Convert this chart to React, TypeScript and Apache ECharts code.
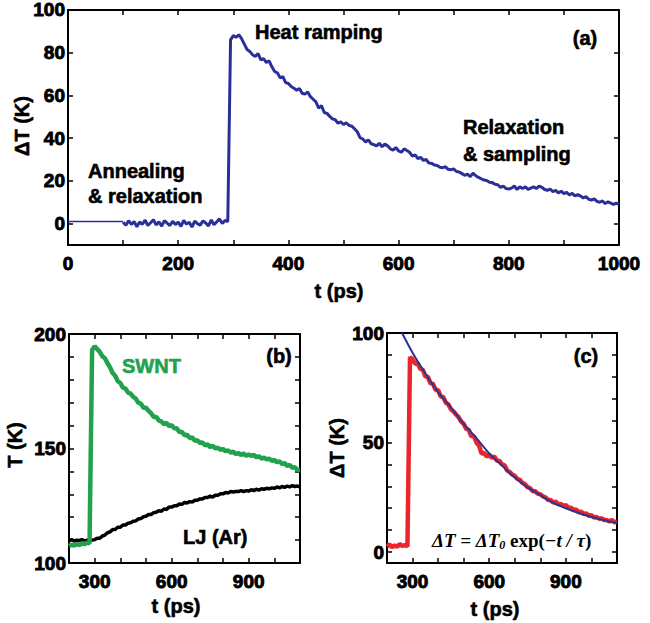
import React, { useEffect, useRef } from "react";
import * as echarts from "echarts";

// ---------- Panel (a): ΔT vs t ----------
const aFlatTimes = [0, 100];
const aFlatValues = [1.0, 1.0];
const aStart = 100;
const aStep = 5;
const aValues = [
  0.6, -0.8, 1.4, -0.4, 1.0, -1.5, 0.8, -0.3, 1.6, -0.9,
  0.4, 1.8, -0.6, 0.9, -1.2, 1.4, 0.2, -0.9, 1.1, -0.4,
  0.7, -1.3, 1.5, -0.2, 0.6, -1.6, 1.2, 0.0, -0.7, 1.3,
  0.3, -1.1, 1.7, -0.5, 0.9, 2.2, 0.1, 1.5, 1.0, 86.0,
  88.0, 87.2, 88.4, 86.6, 84.0, 81.5, 80.6, 79.0, 78.2, 79.6,
  76.6, 77.2, 75.4, 76.2, 73.4, 71.2, 70.6, 68.2, 68.8, 66.0,
  65.6, 64.2, 63.4, 62.4, 63.2, 61.0, 60.6, 61.6, 59.4, 58.2,
  57.0, 54.0, 55.2, 52.0, 51.6, 50.2, 49.0, 48.6, 47.0, 47.6,
  46.4, 47.2, 46.0, 45.6, 44.4, 43.0, 40.2, 39.6, 38.2, 39.2,
  37.4, 37.0, 36.4, 37.6, 36.0, 37.2, 36.4, 35.0, 34.4, 35.6,
  34.0, 33.4, 35.0, 34.2, 33.4, 31.6, 32.2, 30.4, 31.0, 29.6,
  30.0, 28.4, 28.2, 27.4, 27.2, 26.4, 26.2, 26.6, 25.4, 25.2,
  25.6, 24.4, 24.2, 23.4, 22.6, 23.2, 22.0, 23.6, 22.4, 21.6,
  21.0, 20.4, 20.2, 19.4, 19.2, 18.4, 18.2, 17.0, 17.6, 16.4,
  16.2, 16.6, 17.6, 16.0, 17.2, 16.4, 17.2, 16.0, 16.6, 17.2,
  16.4, 17.6, 17.0, 16.0, 15.6, 16.2, 15.0, 15.6, 14.4, 15.2,
  14.0, 14.6, 13.4, 14.2, 13.0, 13.6, 13.0, 12.0, 12.6, 11.4,
  11.0, 11.6, 10.4, 10.0, 10.6, 9.4, 10.2, 9.6, 9.0, 9.6,
  9.0,
];
const aYTicks = [0, 20, 40, 60, 80, 100];

// ---------- Panel (b): T vs t ----------
const bStart = 200;
const bStep = 10;
const bSwnt = [
  107.4, 108.0, 107.6, 108.2, 107.8, 108.6, 108.2, 108.8, 108.6, 193.0,
  194.6, 193.4, 192.2, 190.2, 189.4, 187.2, 185.4, 183.0, 181.8, 179.4,
  178.6, 176.6, 176.2, 174.4, 174.0, 172.6, 171.8, 170.0, 169.6, 167.8,
  167.8, 166.4, 165.4, 163.8, 163.8, 162.2, 161.8, 160.6, 161.2, 159.8,
  160.2, 158.8, 158.8, 157.2, 157.2, 155.8, 156.0, 154.6, 154.8, 153.4,
  153.6, 152.4, 152.6, 151.4, 151.8, 150.6, 151.2, 150.0, 150.4, 149.4,
  149.8, 148.8, 149.2, 148.2, 148.6, 147.6, 148.0, 147.2, 147.8, 146.8,
  147.4, 146.8, 147.2, 146.2, 146.6, 145.6, 146.0, 145.2, 145.6, 144.6,
  145.0, 144.0, 144.4, 143.2, 143.6, 142.4, 142.8, 141.6, 141.8, 140.6,
  140.8,
];
const bLj = [
  109.8, 110.2, 109.6, 110.0, 109.8, 110.2, 109.6, 110.0, 109.8, 110.0,
  110.2, 110.8, 110.8, 111.8, 112.2, 113.2, 113.6, 114.6, 114.6, 115.6,
  115.6, 116.6, 116.6, 117.4, 117.6, 118.2, 118.4, 119.2, 119.4, 120.2,
  120.4, 121.2, 121.2, 122.0, 122.2, 122.8, 122.6, 123.6, 123.4, 124.4,
  124.4, 125.0, 125.0, 125.8, 125.6, 126.4, 126.2, 126.8, 126.6, 127.4,
  127.4, 128.0, 128.0, 128.6, 128.6, 129.2, 128.8, 129.6, 129.6, 130.2,
  130.2, 130.8, 130.6, 131.2, 131.0, 131.2, 131.2, 131.6, 131.2, 131.6,
  131.4, 132.0, 131.6, 132.2, 131.8, 132.4, 132.2, 132.6, 132.4, 132.8,
  132.6, 133.2, 132.8, 133.4, 133.0, 133.6, 133.2, 133.8, 133.4, 133.6,
  133.2,
];

// ---------- Panel (c): ΔT with exponential fit ----------
const cStart = 200;
const cStep = 10;
const cData = [
  2.6, 3.4, 2.2, 3.0, 2.4, 3.6, 2.8, 3.2, 2.6, 89.0,
  88.0, 86.0, 86.2, 83.6, 83.2, 80.2, 80.0, 77.0, 76.8, 74.0,
  74.0, 71.0, 70.8, 68.2, 67.4, 65.2, 64.2, 62.8, 61.6, 59.6,
  58.6, 56.2, 55.8, 52.8, 53.0, 50.0, 48.6, 45.0, 45.2, 43.6,
  44.4, 43.0, 43.6, 41.8, 41.6, 40.0, 39.6, 37.2, 36.6, 35.4,
  34.8, 33.4, 33.0, 31.6, 31.0, 29.6, 29.2, 27.8, 27.8, 26.6,
  26.4, 25.4, 25.0, 23.8, 23.8, 22.6, 23.0, 21.8, 22.0, 21.0,
  21.4, 20.2, 20.2, 19.2, 19.4, 18.2, 18.4, 17.4, 17.6, 16.6,
  16.8, 15.8, 16.0, 15.2, 15.4, 14.6, 14.6, 14.0, 14.6, 13.6,
  13.8,
];
const cFitTimes = [259, 300, 350, 400, 450, 500, 550, 600, 650, 700, 750, 800, 850, 900, 950, 1000, 1050, 1100];
const cFitValues = [100, 91, 81.5, 73, 66, 58.5, 52, 45, 39.5, 34, 29.5, 26, 22.5, 20, 17.8, 16, 14.5, 13.2];
const cYTicks = [0, 10, 20, 30, 40, 50, 60, 70, 80, 90, 100];
const cYLabels = [0, 50, 100];

const FONT = "'Liberation Sans', Arial, Helvetica, sans-serif";
const SERIF = "'Liberation Serif', 'Times New Roman', serif";

function seq(start: number, step: number, vals: number[]) {
  return vals.map((v, i) => [start + i * step, v]);
}

const labelStyle = {
  color: "#000",
  fontFamily: FONT,
  fontWeight: "bold" as const,
  fontSize: 19,
  textBorderColor: "#000",
  textBorderWidth: 0.9,
};

function xAx(grid: number, min: number, max: number, interval: number, pos: "bottom" | "top", fmt?: (v: number) => string) {
  return {
    type: "value",
    gridIndex: grid,
    position: pos,
    min,
    max,
    interval,
    splitLine: { show: false },
    axisLine: { show: true, onZero: false, lineStyle: { color: "#000", width: 2 } },
    axisTick: { show: true, inside: true, length: 5, lineStyle: { color: "#000", width: 1.5 } },
    axisLabel: pos === "bottom" && fmt ? { ...labelStyle, margin: 9, formatter: fmt, showMinLabel: true, showMaxLabel: true } : { show: false },
  };
}

function yAx(grid: number, min: number, max: number, pos: "left" | "right", opts: any) {
  return {
    type: "value",
    gridIndex: grid,
    position: pos,
    min,
    max,
    splitLine: { show: false },
    axisLine: { show: true, onZero: false, lineStyle: { color: "#000", width: 2 } },
    ...opts.base,
    axisTick: { show: true, inside: true, length: 5, lineStyle: { color: "#000", width: 1.5 }, ...(opts.tick || {}) },
    axisLabel: pos === "left" ? { ...labelStyle, margin: 3, ...(opts.label || {}) } : { show: false, ...(opts.label || {}) },
  };
}

function txt(x: number, y: number, text: string, extra: any = {}, rotation = 0) {
  const fill = extra.fill || "#000";
  return {
    type: "text",
    x,
    y,
    rotation,
    silent: true,
    style: {
      text,
      fill,
      font: extra.font || `bold 20px ${FONT}`,
      align: extra.align || "center",
      verticalAlign: "middle",
      stroke: extra.rich ? undefined : fill,
      lineWidth: extra.rich ? 0 : 0.6,
      rich: extra.rich,
    },
  };
}

export default function App() {
  const ref = useRef<HTMLDivElement>(null);
  useEffect(() => {
    if (!ref.current) return;
    const chart = echarts.init(ref.current, undefined, { renderer: "svg" });
    const aFlat = aFlatTimes.map((t, i) => [t, aFlatValues[i]]);
    const aSeries = seq(aStart, aStep, aValues);
    const option: any = {
      animation: false,
      backgroundColor: "#fff",
      grid: [
        { left: 68, top: 6, width: 551, height: 239 },
        { left: 69, top: 334, width: 231, height: 229 },
        { left: 387, top: 333, width: 230, height: 230 },
      ],
      xAxis: [
        xAx(0, 0, 1000, 100, "bottom", (v: number) => (v % 200 === 0 ? String(v) : "")),
        xAx(0, 0, 1000, 100, "top"),
        xAx(1, 200, 1100, 100, "bottom", (v: number) => (v % 300 === 0 ? String(v) : "")),
        xAx(1, 200, 1100, 100, "top"),
        xAx(2, 200, 1100, 100, "bottom", (v: number) => (v % 300 === 0 ? String(v) : "")),
        xAx(2, 200, 1100, 100, "top"),
      ],
      yAxis: [
        yAx(0, -10, 100, "left", { tick: { customValues: aYTicks }, label: { customValues: aYTicks } }),
        yAx(0, -10, 100, "right", { tick: { customValues: aYTicks }, label: { customValues: aYTicks } }),
        yAx(1, 100, 200, "left", { base: { interval: 10 }, label: { formatter: (v: number) => (v % 50 === 0 ? String(v) : ""), showMinLabel: true, showMaxLabel: true } }),
        yAx(1, 100, 200, "right", { base: { interval: 10 } }),
        yAx(2, -5, 100, "left", { tick: { customValues: cYTicks }, label: { customValues: cYLabels } }),
        yAx(2, -5, 100, "right", { tick: { customValues: cYTicks }, label: { customValues: cYLabels } }),
      ],
      series: [
        {
          type: "line", xAxisIndex: 0, yAxisIndex: 0, data: aFlat, showSymbol: false, symbol: "none",
          lineStyle: { color: "#2b2f98", width: 1.6 }, clip: true,
        },
        {
          type: "line", xAxisIndex: 0, yAxisIndex: 0, data: aSeries, showSymbol: false, symbol: "none",
          lineStyle: { color: "#2b2f98", width: 3 }, clip: true,
        },
        {
          type: "line", xAxisIndex: 2, yAxisIndex: 2, data: seq(bStart, bStep, bLj), showSymbol: false, symbol: "none",
          lineStyle: { color: "#000", width: 3.5 }, clip: true,
        },
        {
          type: "line", xAxisIndex: 2, yAxisIndex: 2, data: seq(bStart, bStep, bSwnt), showSymbol: false, symbol: "none",
          lineStyle: { color: "#22a24c", width: 4.5 }, clip: true,
        },
        {
          type: "line", xAxisIndex: 4, yAxisIndex: 4, data: seq(cStart, cStep, cData), showSymbol: false, symbol: "none",
          lineStyle: { color: "#e8262c", width: 4.5 }, clip: true,
        },
        {
          type: "line", xAxisIndex: 4, yAxisIndex: 4, data: cFitTimes.map((t, i) => [t, cFitValues[i]]), showSymbol: false, symbol: "none",
          smooth: 0.3, lineStyle: { color: "#2a3592", width: 2 }, clip: true,
        },
      ],
      graphic: [
        txt(22, 126, "ΔT (K)", {}, Math.PI / 2),
        txt(339, 291, "t (ps)"),
        txt(15, 445, "T (K)", {}, Math.PI / 2),
        txt(176, 606, "t (ps)"),
        txt(337, 448, "ΔT (K)", {}, Math.PI / 2),
        txt(495, 609, "t (ps)"),
        txt(255, 32, "Heat ramping", { align: "left" }),
        txt(585, 38, "(a)"),
        txt(88, 171, "Annealing", { align: "left" }),
        txt(88, 196, "& relaxation", { align: "left" }),
        txt(463, 127, "Relaxation", { align: "left" }),
        txt(463, 154, "& sampling", { align: "left" }),
        txt(122, 366, "SWNT", { align: "left", fill: "#22a24c" }),
        txt(279, 356, "(b)"),
        txt(183, 537, "LJ (Ar)", { align: "left" }),
        txt(586, 356, "(c)"),
        txt(432, 540, "{i|ΔT = ΔT}{s|0}{r| exp(}{i|−t / τ}{r|)}", {
          align: "left",
          font: `italic bold 19px ${SERIF}`,
          rich: {
            i: { fontFamily: SERIF, fontStyle: "italic", fontWeight: "bold", fontSize: 19, fill: "#000" },
            r: { fontFamily: SERIF, fontStyle: "normal", fontWeight: "bold", fontSize: 19, fill: "#000" },
            s: { fontFamily: SERIF, fontStyle: "italic", fontWeight: "bold", fontSize: 12, fill: "#000", padding: [10, 0, 0, 0] },
          },
        }),
      ],
    };
    chart.setOption(option);
    return () => chart.dispose();
  }, []);
  return <div ref={ref} style={{ position: "absolute", left: 0, top: 0, width: 650, height: 623 }} />;
}
